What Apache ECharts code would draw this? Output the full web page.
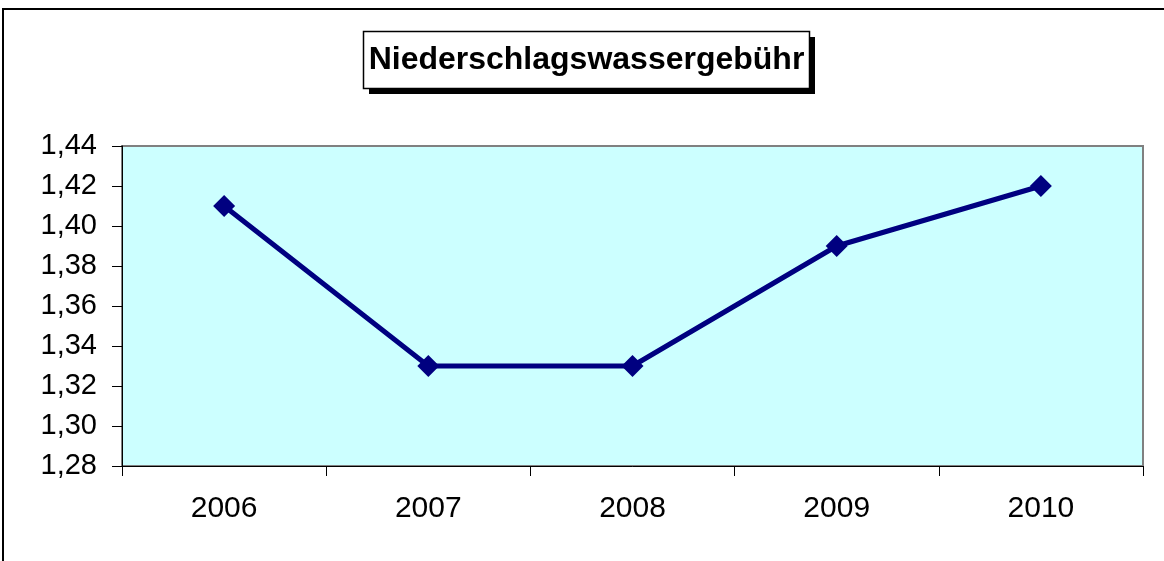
<!DOCTYPE html>
<html>
<head>
<meta charset="utf-8">
<script src="https://cdn.jsdelivr.net/npm/echarts@6/dist/echarts.min.js"></script>
<style>
  html, body { margin: 0; padding: 0; background: #fff; }
  #chart { width: 1164px; height: 561px; }
</style>
</head>
<body>
<div id="chart"></div>
<script>
// Gebühr je Jahr
const years = ['2006', '2007', '2008', '2009', '2010'];
const fees = [1.41, 1.33, 1.33, 1.39, 1.42];
const titleText = 'Niederschlagswassergebühr';

const chart = echarts.init(document.getElementById('chart'), null, { renderer: 'canvas' });

const FONT = '"Liberation Sans", Arial, sans-serif';

chart.setOption({
  backgroundColor: '#ffffff',
  animation: false,
  graphic: [
    // Rahmen um das gesamte Diagramm
    { type: 'rect', z: 0, shape: { x: 3, y: 9, width: 1200, height: 600 },
      style: { fill: 'none', stroke: '#000', lineWidth: 2 } },
    // Schatten des Titelkastens
    { type: 'rect', z: 1, shape: { x: 369, y: 37, width: 446, height: 57 },
      style: { fill: '#000' } },
    // Titelkasten
    { type: 'rect', z: 2, shape: { x: 363.5, y: 31.5, width: 446, height: 57 },
      style: { fill: '#fff', stroke: '#000', lineWidth: 1.5 } },
    { type: 'text', z: 3, x: 586.5, y: 60,
      style: { text: titleText, font: 'bold 32px ' + FONT, fill: '#000',
               align: 'center', verticalAlign: 'middle' } }
  ],
  grid: {
    left: 122, right: 21, top: 146, bottom: 95,
    show: true, backgroundColor: '#ccffff', borderColor: '#808080', borderWidth: 2
  },
  xAxis: {
    type: 'category',
    data: years,
    boundaryGap: true,
    axisLine: { show: true, lineStyle: { color: '#000', width: 1 } },
    axisTick: { show: true, length: 10, lineStyle: { color: '#000' } },
    axisLabel: { color: '#000', fontFamily: FONT, fontSize: 30, margin: 28 },
    splitLine: { show: false }
  },
  yAxis: {
    type: 'value',
    min: 1.28, max: 1.44, interval: 0.02,
    axisLine: { show: true, lineStyle: { color: '#000', width: 1 } },
    axisTick: { show: true, length: 10, lineStyle: { color: '#000' } },
    axisLabel: {
      color: '#000', fontFamily: FONT, fontSize: 29, margin: 25,
      formatter: v => v.toFixed(2).replace('.', ',')
    },
    splitLine: { show: false }
  },
  series: [{
    type: 'line',
    data: fees,
    symbol: 'diamond',
    symbolSize: 22,
    lineStyle: { color: '#000080', width: 5 },
    itemStyle: { color: '#000080' }
  }]
});
</script>
</body>
</html>
